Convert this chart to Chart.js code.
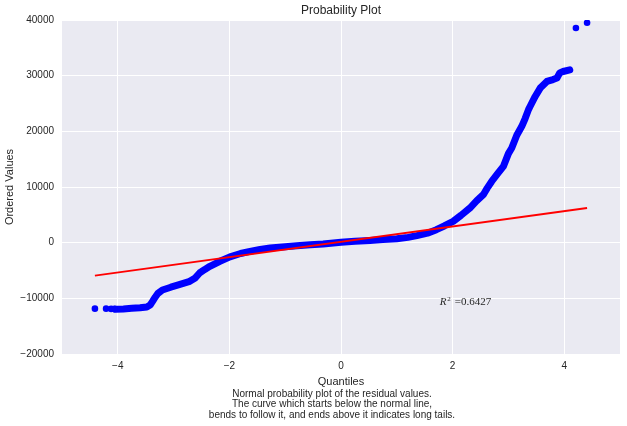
<!DOCTYPE html>
<html>
<head>
<meta charset="utf-8">
<script src="https://cdn.jsdelivr.net/npm/chart.js@4.4.1/dist/chart.umd.min.js"></script>
<style>
  html, body { margin: 0; padding: 0; background: #ffffff; }
  #wrap { width: 627px; height: 426px; }
</style>
</head>
<body>
<div id="wrap"><canvas id="c" width="627" height="426"></canvas></div>
<script>
// ---- data ----
// dense band of ordered residuals (theoretical quantile, ordered value)
const bandQuantiles = [-4.05, -3.90, -3.75, -3.60, -3.48, -3.42, -3.38, -3.33, -3.28, -3.20, -3.05, -2.90, -2.71, -2.62, -2.53, -2.44, -2.35, -2.17, -1.99, -1.80, -1.63, -1.45, -1.27, -1.00, -0.79, -0.55, -0.32, 0.00, 0.25, 0.52, 0.75, 1.00, 1.20, 1.36, 1.55, 1.71, 1.85, 2.01, 2.15, 2.31, 2.43, 2.55, 2.62, 2.70, 2.80, 2.91, 3.00, 3.06, 3.15, 3.24, 3.30, 3.36, 3.39, 3.48, 3.57, 3.69, 3.80, 3.87, 3.92, 3.98, 4.10];
const bandValues    = [-11950, -11900, -11800, -11700, -11550, -11200, -10600, -9800, -9100, -8500, -8000, -7550, -6950, -6400, -5400, -4800, -4250, -3350, -2550, -1950, -1560, -1200, -960, -720, -540, -380, -240, 60, 250, 410, 560, 720, 950, 1260, 1700, 2330, 3000, 3830, 4900, 6220, 7500, 8620, 9800, 11000, 12300, 13700, 16000, 17000, 19300, 20900, 22300, 23900, 24500, 26270, 27770, 28960, 29300, 29570, 30500, 30750, 31060];
// isolated extreme points in the tails
const tailQuantiles = [-4.41, -4.21, -4.12, -4.06, 4.21, 4.41];
const tailValues    = [-11850, -11850, -11900, -11900, 38550, 39500];
// least-squares normal line
const fitEnds      = [-4.41, 4.41];
const fitSlope     = 1377;
const fitIntercept = 155;
const rSquared     = "0.6427";
// axis ticks
const xTicks = [-4, -2, 0, 2, 4];
const yTicks = [-20000, -10000, 0, 10000, 20000, 30000, 40000];
// texts
const chartTitle = "Probability Plot";
const xTitle = "Quantiles";
const yTitle = "Ordered Values";
const caption = [
  "Normal probability plot of the residual values.",
  "The curve which starts below the normal line,",
  "bends to follow it, and ends above it indicates long tails."
];
const rSquaredAnchor = [1.77, -11250];

// ---- build datasets ----
const bandData = bandQuantiles.map((q, i) => ({x: q, y: bandValues[i]}));
const tailData = tailQuantiles.map((q, i) => ({x: q, y: tailValues[i]}));
const fitData = fitEnds.map(q => ({x: q, y: fitSlope * q + fitIntercept}));

const TEXT = '#262626';
const SANS = '"Liberation Sans", Arial, sans-serif';

const decor = {
  id: 'decor',
  beforeDraw(chart) {
    const {ctx, chartArea: a} = chart;
    ctx.save();
    ctx.fillStyle = '#EAEAF2';
    ctx.fillRect(a.left, a.top, a.right - a.left, a.bottom - a.top);
    ctx.restore();
  },
  afterDraw(chart) {
    const {ctx, chartArea: a, scales} = chart;
    const cx = (a.left + a.right) / 2;
    ctx.save();
    ctx.fillStyle = TEXT;
    ctx.textAlign = 'center';
    ctx.textBaseline = 'middle';
    ctx.font = '12px ' + SANS;
    ctx.fillText(chartTitle, cx, 11);
    ctx.font = '11px ' + SANS;
    ctx.fillText(xTitle, cx, 382);
    ctx.font = '10px ' + SANS;
    caption.forEach((line, i) => ctx.fillText(line, 332, 394 + i * 10.6));
    ctx.save();
    ctx.translate(10, (a.top + a.bottom) / 2);
    ctx.rotate(-Math.PI / 2);
    ctx.font = '11px ' + SANS;
    ctx.fillText(yTitle, 0, 0);
    ctx.restore();
    // R^2 annotation
    const px = scales.x.getPixelForValue(rSquaredAnchor[0]);
    const py = scales.y.getPixelForValue(rSquaredAnchor[1]);
    ctx.textAlign = 'left';
    ctx.textBaseline = 'alphabetic';
    ctx.font = 'italic 11px "Liberation Serif", serif';
    ctx.fillText('R', px, py);
    ctx.font = '7px "Liberation Serif", serif';
    ctx.fillText('2', px + 7.5, py - 4.5);
    ctx.font = '11px "Liberation Serif", serif';
    ctx.fillText('=' + rSquared, px + 15, py);
    ctx.restore();
  }
};

new Chart(document.getElementById('c'), {
  type: 'scatter',
  data: {
    datasets: [
      { label: 'fit', data: fitData, showLine: true, borderColor: '#FF0000', borderWidth: 1.8,
        pointRadius: 0, order: 0 },
      { label: 'tails', data: tailData, pointRadius: 3.3, pointBackgroundColor: '#0000FF',
        pointBorderWidth: 0, showLine: false, order: 1 },
      { label: 'band', data: bandData, showLine: true, borderColor: '#0000FF', borderWidth: 7,
        borderCapStyle: 'round', borderJoinStyle: 'round', pointRadius: 0, order: 2 }
    ]
  },
  options: {
    responsive: false,
    animation: false,
    devicePixelRatio: 1,
    layout: { padding: { top: 20, right: 7, left: 0, bottom: 0 } },
    plugins: { legend: { display: false }, tooltip: { enabled: false }, title: { display: false } },
    scales: {
      x: {
        type: 'linear', min: -5, max: 5,
        afterBuildTicks: s => { s.ticks = xTicks.map(v => ({value: v})); },
        afterFit: s => { s.height = 72; },
        grid: { color: '#FFFFFF', lineWidth: 1, drawTicks: false },
        border: { display: false },
        ticks: { color: TEXT, font: { family: SANS, size: 10 }, padding: 6,
                 callback: v => String(v).replace('-', '\u2212') }
      },
      y: {
        type: 'linear', min: -20000, max: 40000,
        afterBuildTicks: s => { s.ticks = yTicks.map(v => ({value: v})); },
        afterFit: s => { s.width = 62; },
        grid: { color: '#FFFFFF', lineWidth: 1, drawTicks: false },
        border: { display: false },
        ticks: { color: TEXT, font: { family: SANS, size: 10 }, padding: 8,
                 callback: v => String(v).replace('-', '\u2212') }
      }
    }
  },
  plugins: [decor]
});
</script>
</body>
</html>
